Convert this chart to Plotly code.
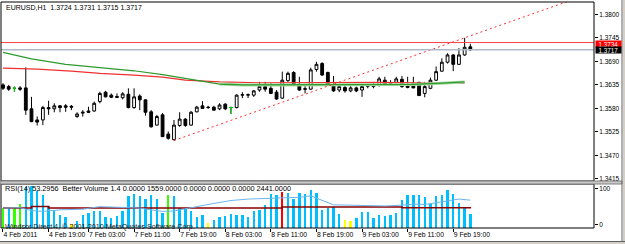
import plotly.graph_objects as go

# ---------------- data ----------------
bar_index = list(range(83))
opens = [1.3635,1.3631,1.3627,1.3628,1.3628,1.3579,1.3553,1.3553,1.3582,1.3579,
         1.3586,1.3586,1.3585,1.3561,1.3569,1.3574,1.3574,1.3596,1.3618,1.3611,
         1.3608,1.3605,1.3613,1.3582,1.3609,1.3600,1.3572,1.3541,1.3565,1.3520,
         1.3507,1.3540,1.3555,1.3541,1.3572,1.3586,1.3583,1.3583,1.3579,1.3590,
         1.3582,1.3582,1.3611,1.3611,1.3611,1.3623,1.3631,1.3627,1.3618,1.3604,
         1.3645,1.3664,1.3636,1.3626,1.3625,1.3671,1.3685,1.3664,1.3635,1.3623,
         1.3629,1.3621,1.3628,1.3623,1.3633,1.3636,1.3635,1.3646,1.3639,1.3641,
         1.3648,1.3636,1.3639,1.3641,1.3615,1.3627,1.3646,1.3667,1.3688,1.3705,
         1.3683,1.3705,1.3724]
highs = [1.3639,1.3635,1.3631,1.3632,1.3676,1.3607,1.3561,1.3586,1.3598,1.3592,
         1.3588,1.3590,1.3588,1.3571,1.3576,1.3584,1.3596,1.3619,1.3621,1.3615,
         1.3615,1.3618,1.3627,1.3627,1.3613,1.3601,1.3576,1.3565,1.3569,1.3526,
         1.3553,1.3571,1.3557,1.3574,1.3586,1.3597,1.3586,1.3586,1.3592,1.3592,
         1.3584,1.3613,1.3618,1.3615,1.3623,1.3642,1.3642,1.3639,1.3623,1.3666,
         1.3666,1.3667,1.3654,1.3636,1.3675,1.3689,1.3688,1.3666,1.3656,1.3636,
         1.3635,1.3632,1.3631,1.3636,1.3637,1.3640,1.3654,1.3654,1.3646,1.3654,
         1.3656,1.3654,1.3654,1.3642,1.3642,1.3652,1.3678,1.3697,1.3709,1.3707,
         1.3721,1.3745,1.3731]
lows = [1.3623,1.3621,1.3619,1.3621,1.3565,1.3548,1.3540,1.3541,1.3565,1.3571,
        1.3571,1.3572,1.3576,1.3558,1.3561,1.3569,1.3572,1.3592,1.3606,1.3604,
        1.3604,1.3601,1.3580,1.3579,1.3576,1.3563,1.3535,1.3540,1.3513,1.3507,
        1.3505,1.3537,1.3537,1.3540,1.3571,1.3579,1.3579,1.3575,1.3576,1.3576,
        1.3567,1.3580,1.3604,1.3604,1.3607,1.3619,1.3619,1.3614,1.3600,1.3602,
        1.3642,1.3633,1.3621,1.3615,1.3623,1.3666,1.3656,1.3635,1.3619,1.3618,
        1.3617,1.3618,1.3618,1.3607,1.3627,1.3627,1.3631,1.3635,1.3635,1.3639,
        1.3628,1.3627,1.3627,1.3609,1.3606,1.3625,1.3644,1.3666,1.3685,1.3667,
        1.3682,1.3703,1.3715]
closes = [1.3627,1.3625,1.3627,1.3625,1.3576,1.3549,1.3548,1.3582,1.3579,1.3586,
          1.3582,1.3583,1.3583,1.3567,1.3571,1.3571,1.3592,1.3615,1.3607,1.3606,
          1.3606,1.3614,1.3582,1.3607,1.3600,1.3571,1.3537,1.3561,1.3514,1.3510,
          1.3541,1.3555,1.3540,1.3571,1.3583,1.3580,1.3582,1.3576,1.3588,1.3579,
          1.3582,1.3611,1.3612,1.3612,1.3621,1.3631,1.3625,1.3615,1.3602,1.3646,
          1.3662,1.3635,1.3623,1.3625,1.3670,1.3683,1.3658,1.3636,1.3621,1.3631,
          1.3621,1.3628,1.3621,1.3631,1.3632,1.3631,1.3649,1.3636,1.3638,1.3649,
          1.3631,1.3629,1.3628,1.3610,1.3631,1.3646,1.3666,1.3688,1.3705,1.3683,
          1.3705,1.3723,1.3717]

# moving averages (bar index, price)
ma_green_idx = [0, 5, 11, 17, 23, 28, 32, 36, 38, 42, 50, 60, 67, 72, 77, 81]
ma_green_val = [1.3711, 1.3696, 1.3683, 1.3675, 1.3668, 1.3659, 1.3650, 1.3642,
                1.3637, 1.3635, 1.3635, 1.3635, 1.3635, 1.3636, 1.3639, 1.3642]
ma_red_idx = [0, 6, 12, 17, 23, 28, 32, 38, 45, 55, 67, 75, 81]
ma_red_val = [1.3674, 1.3672, 1.3667, 1.3662, 1.3658, 1.3653, 1.3646, 1.3642,
              1.3640, 1.3641, 1.3641, 1.3639, 1.3639]

# trend line anchors (bar index, price)
trend_idx = [30, 81]
trend_val = [1.3505, 1.3745]

ask_price = 1.3734
bid_price = 1.3717
price_ticks = [1.3415, 1.3470, 1.3525, 1.3580, 1.3635, 1.3690, 1.3745, 1.3800]

# time axis
tick_index = [0, 8, 15, 23, 31, 39, 47, 55, 63, 71, 79]
tick_labels = ["4 Feb 2011", "4 Feb 19:00", "7 Feb 03:00", "7 Feb 11:00", "7 Feb 19:00",
               "8 Feb 03:00", "8 Feb 11:00", "8 Feb 19:00", "9 Feb 03:00",
               "9 Feb 11:00", "9 Feb 19:00"]

# Better Volume
volume = [2220,2220,2220,2660,4500,4620,4140,3620,2400,2030,
          1400,1180,440,730,1400,1665,1840,1920,1220,1110,
          1290,1840,3510,3770,3510,3250,3700,3250,1665,3620,
          3510,2220,2220,1920,1220,1400,555,920,1220,1290,
          1555,1475,1400,1180,1920,2030,2500,3770,3620,4000,
          3880,3250,3880,3800,4250,3880,2030,2220,2290,1555,
          920,730,1110,1775,1775,1110,1400,1290,1400,1665,
          3140,3700,3620,3700,3400,2660,3590,3700,4250,3770,
          2775,2290,1555]
volume_kind = (["climax_low"]*1 + ["normal"] + ["climax_low"]*2 + ["normal"]*8 + ["low"] +
               ["normal"]*16 + ["climax_low"] + ["normal"]*6 + ["low"] + ["normal"]*12 +
               ["climax_high"] + ["normal"]*10 + ["low"]*2 + ["normal"]*21)
avg_idx = [0, 5, 8, 49, 70, 82]
avg_val = [2220, 2400, 2220, 2330, 2250, 2330]

rsi_idx = [0, 3, 5, 7, 10, 14, 17, 20, 22, 24, 26, 28, 30, 32, 34, 37, 40, 43, 46,
           49, 52, 54, 56, 58, 61, 64, 67, 70, 72, 74, 76, 78, 80, 82]
rsi_val = [45, 46, 38, 36, 40, 42, 49, 47, 46, 45, 40, 36, 37, 42, 49, 58, 66, 70, 72,
           72, 75, 79, 67, 54, 53, 51, 51, 53, 56, 55, 60, 67, 70, 67]

header_text = "EURUSD,H1  1.3724 1.3731 1.3715 1.3717"
sub_text = "RSI(14) 53.2956  Better Volume 1.4 0.0000 1559.0000 0.0000 0.0000 0.0000 2441.0000"
copyright_text = "Windsor Direct 4, \u00a9 2001-2010 MetaQuotes Software Corp."

# ---------------- figure ----------------
FONT = "Liberation Sans, Arial, sans-serif"
kind_color = {"normal": "#00BFFF", "climax_low": "#33FF00", "low": "#FFFF00",
              "climax_high": "#FF0000"}

fig = go.Figure()

fig.add_trace(go.Scatter(x=ma_red_idx, y=ma_red_val, mode="lines",
                         line=dict(color="#F03030", width=1.2), xaxis="x", yaxis="y",
                         hoverinfo="skip", showlegend=False))
fig.add_trace(go.Scatter(x=[i for i in ma_green_idx if i >= 38],
                         y=[v for i, v in zip(ma_green_idx, ma_green_val) if i >= 38],
                         mode="lines", line=dict(color="#A6D9A0", width=3),
                         xaxis="x", yaxis="y", hoverinfo="skip", showlegend=False))
fig.add_trace(go.Scatter(x=ma_green_idx, y=ma_green_val, mode="lines",
                         line=dict(color="#2E9A2E", width=1.2), xaxis="x", yaxis="y",
                         hoverinfo="skip", showlegend=False))

slope = (trend_val[1] - trend_val[0]) / (trend_idx[1] - trend_idx[0])
ext_x = 104
fig.add_trace(go.Scatter(x=[trend_idx[0], ext_x],
                         y=[trend_val[0], trend_val[0] + slope * (ext_x - trend_idx[0])],
                         mode="lines", line=dict(color="#FF3030", width=1, dash="2px,3px"),
                         xaxis="x", yaxis="y", hoverinfo="skip", showlegend=False))

fig.add_trace(go.Candlestick(
    x=bar_index, open=opens, high=highs, low=lows, close=closes,
    increasing=dict(line=dict(color="black", width=1), fillcolor="white"),
    decreasing=dict(line=dict(color="black", width=1), fillcolor="black"),
    whiskerwidth=0, xaxis="x", yaxis="y", hoverinfo="skip", showlegend=False))

dx, dy = [], []
for i, o, h, l, c in zip(bar_index, opens, highs, lows, closes):
    if o == c:
        dx += [i, i, None, i - 0.3, i + 0.3, None]
        dy += [l, h, None, o, o, None]
fig.add_trace(go.Scatter(x=dx, y=dy, mode="lines", line=dict(color="#00E000", width=1),
                         xaxis="x", yaxis="y", hoverinfo="skip", showlegend=False))

fig.add_trace(go.Bar(x=bar_index, y=volume, width=0.42,
                     marker=dict(color=[kind_color[k] for k in volume_kind], line=dict(width=0)),
                     xaxis="x", yaxis="y2", hoverinfo="skip", showlegend=False))
fig.add_trace(go.Scatter(x=avg_idx, y=avg_val, mode="lines", line=dict(color="#8B0000", width=1.5, shape="hv"),
                         xaxis="x", yaxis="y2", hoverinfo="skip", showlegend=False))
fig.add_trace(go.Scatter(x=rsi_idx, y=rsi_val, mode="lines", line=dict(color="#6CB4F0", width=1),
                         xaxis="x", yaxis="y3", hoverinfo="skip", showlegend=False))

W, H = 625, 244
L, R, T, B = 1, 31, 2, 16
PH = H - T - B
PW = W - L - R
main_bottom = (H - B - 181) / PH
sub_top = (H - B - 184) / PH

tickfont = dict(family=FONT, size=6.5, color="black")

fig.update_layout(
    width=W, height=H, margin=dict(l=L, r=R, t=T, b=B, pad=0, autoexpand=False),
    paper_bgcolor="white", plot_bgcolor="white", bargap=0,
    xaxis=dict(domain=[0, 1], range=[-0.35, 103.7], anchor="y2", showgrid=False,
               zeroline=False, showline=False, ticks="outside", ticklen=3, tickcolor="black",
               tickvals=tick_index, ticktext=tick_labels, ticklabelposition="outside right",
               tickangle=0, automargin=False, tickfont=dict(family=FONT, size=6.8, color="black"),
               rangeslider=dict(visible=False)),
    yaxis=dict(domain=[main_bottom, 1], range=[1.34103, 1.38288], side="right", anchor="x",
               showgrid=False, zeroline=False, ticks="outside", ticklen=3, tickcolor="black",
               tickvals=price_ticks, tickformat=".4f", tickfont=tickfont, automargin=False),
    yaxis2=dict(domain=[0, sub_top], range=[0, 4884], anchor="x", visible=False),
    yaxis3=dict(overlaying="y2", range=[-10.3, 111.9], side="right", anchor="x",
                showgrid=False, zeroline=False, ticks="outside", ticklen=3, tickcolor="black",
                tickvals=[0, 100], ticktext=["0", "100"], tickfont=tickfont, automargin=False),
    shapes=[
        dict(type="line", xref="x domain", x0=0, x1=1, yref="y", y0=ask_price, y1=ask_price,
             line=dict(color="#FF4040", width=1)),
        dict(type="line", xref="x domain", x0=0, x1=1, yref="y", y0=bid_price, y1=bid_price,
             line=dict(color="#B0BAC8", width=1.5)),
        dict(type="rect", xref="x domain", x0=0, x1=1, yref="y domain", y0=0, y1=1,
             line=dict(color="black", width=1)),
        dict(type="rect", xref="x domain", x0=0, x1=1, yref="y2 domain", y0=0, y1=1,
             line=dict(color="black", width=1)),
        dict(type="rect", xref="paper", x0=-1 / PW, x1=621 / PW, yref="paper",
             y0=sub_top, y1=main_bottom, fillcolor="#C8C8C8", line=dict(color="#808080", width=1)),
        dict(type="line", xref="paper", x0=621 / PW, x1=621 / PW, yref="paper",
             y0=-13 / PH, y1=(PH + 2) / PH, line=dict(color="#606060", width=1)),
        dict(type="rect", xref="paper", x0=622 / PW, x1=626 / PW, yref="paper",
             y0=-17 / PH, y1=(PH + 2) / PH, fillcolor="#D4D0C8", line=dict(width=0)),
        dict(type="rect", xref="paper", x0=-2 / PW, x1=626 / PW, yref="paper",
             y0=-17 / PH, y1=-13.5 / PH, fillcolor="#D4D0C8", line=dict(color="#606060", width=1)),
    ],
    annotations=[
        dict(text=header_text, xref="paper", yref="paper", x=3 / PW, y=(PH - 5) / PH,
             xanchor="left", yanchor="middle", showarrow=False,
             font=dict(family=FONT, size=7, color="black")),
        dict(text=sub_text, xref="paper", yref="paper", x=2 / PW, y=(H - B - 188.5) / PH,
             xanchor="left", yanchor="middle", showarrow=False,
             font=dict(family=FONT, size=7.3, color="black")),
        dict(text=copyright_text, xref="paper", yref="paper", x=2 / PW, y=(H - B - 226) / PH,
             xanchor="left", yanchor="middle", showarrow=False,
             font=dict(family=FONT, size=7.2, color="#202020")),
        dict(text=f"{ask_price:.4f}", xref="paper", yref="y", x=1, y=ask_price, xshift=1,
             yshift=-1, xanchor="left", yanchor="middle", showarrow=False, bgcolor="#FF0000",
             borderpad=0, width=25, height=6, font=dict(family=FONT, size=6.3, color="white")),
        dict(text=f"{bid_price:.4f}", xref="paper", yref="y", x=1, y=bid_price, xshift=1,
             yshift=-0.5, xanchor="left", yanchor="middle", showarrow=False, bgcolor="#000000",
             borderpad=0, width=25, height=6, font=dict(family=FONT, size=6.3, color="white")),
    ],
)

fig.write_html("out.html")
